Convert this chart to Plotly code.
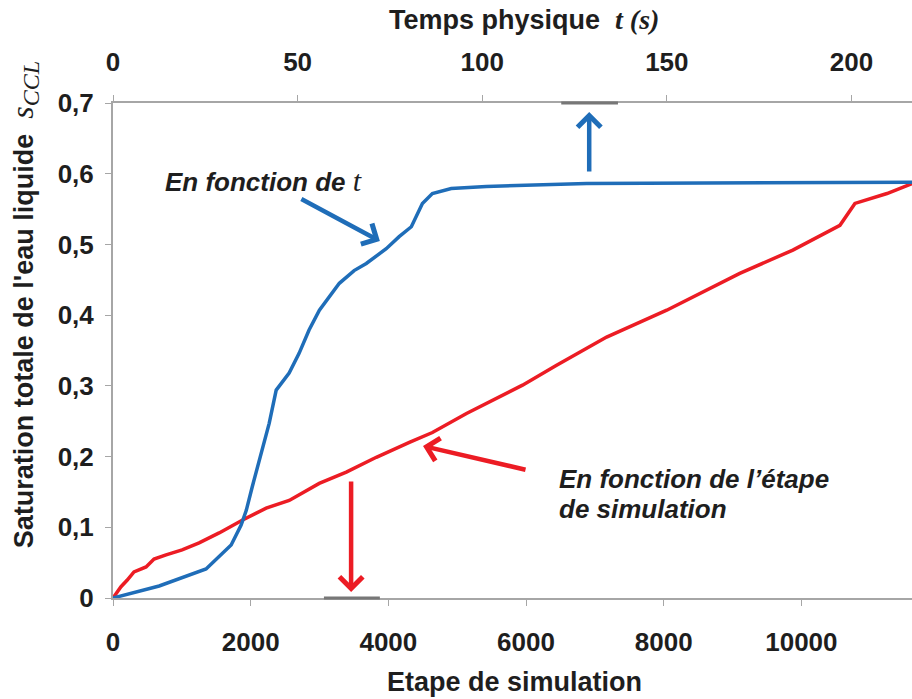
import plotly.graph_objects as go

# ---- data ----
time_s = [0, 12.5, 25.2, 28.7, 32.0, 34.7, 36.1, 37.7, 40.4, 42.3, 44.2, 47.7, 50.4, 53.1,
          55.9, 61.3, 65.3, 68.6, 74.0, 77.5, 80.8, 83.8, 86.5, 91.6, 101.1, 128.3, 216.4]
sat_vs_time = [0, 0.017, 0.041, 0.058, 0.075, 0.103, 0.124, 0.157, 0.209, 0.247, 0.294, 0.318,
               0.346, 0.379, 0.407, 0.445, 0.463, 0.473, 0.494, 0.511, 0.525, 0.558, 0.572,
               0.579, 0.582, 0.586, 0.588]

steps = [0, 116, 204, 305, 480, 596, 771, 1004, 1251, 1542, 1876, 2225, 2560, 2996, 3389,
         3825, 4305, 4640, 5135, 5949, 6444, 7171, 8044, 9105, 9876, 10560, 10778, 11244, 11607]
sat_vs_steps = [0, 0.016, 0.025, 0.037, 0.044, 0.055, 0.061, 0.068, 0.078, 0.092, 0.110, 0.127,
                0.138, 0.162, 0.178, 0.199, 0.220, 0.234, 0.261, 0.301, 0.329, 0.369, 0.407,
                0.459, 0.492, 0.527, 0.558, 0.572, 0.586]

step_ticks = [0, 2000, 4000, 6000, 8000, 10000]
step_ticklabels = ["0", "2000", "4000", "6000", "8000", "10000"]
time_ticks = [0, 50, 100, 150, 200]
time_ticklabels = ["0", "50", "100", "150", "200"]
sat_ticks = [0, 0.1, 0.2, 0.3, 0.4, 0.5, 0.6, 0.7]
sat_ticklabels = ["0", "0,1", "0,2", "0,3", "0,4", "0,5", "0,6", "0,7"]

step_range = [0, 11607]
time_range = [0, 216.4]
sat_range = [0, 0.7]

BLUE = "#1f6db8"
RED = "#ec1c24"
AXIS = "#a6a6a6"
TXT = "#1e1e1e"
FONT = "Liberation Sans, Arial, sans-serif"

fig = go.Figure()
fig.add_trace(go.Scatter(x=steps, y=sat_vs_steps, mode="lines",
                         line=dict(color=RED, width=3.5), xaxis="x", yaxis="y",
                         showlegend=False, cliponaxis=False))
fig.add_trace(go.Scatter(x=time_s, y=sat_vs_time, mode="lines",
                         line=dict(color=BLUE, width=3.5), xaxis="x2", yaxis="y",
                         showlegend=False, cliponaxis=False))

tickfont = dict(family=FONT, size=26, color=TXT, weight="bold")

fig.update_layout(
    width=912, height=699, autosize=False,
    margin=dict(l=113, r=0, t=103, b=101, pad=0),
    paper_bgcolor="white", plot_bgcolor="white",
    xaxis=dict(range=step_range, tickvals=step_ticks, ticktext=step_ticklabels,
               showgrid=False, zeroline=False, showline=True, linecolor=AXIS, linewidth=2,
               ticks="outside", ticklen=6, tickcolor=AXIS, tickwidth=1,
               tickfont=tickfont, ticklabelstandoff=14),
    xaxis2=dict(range=time_range, tickvals=time_ticks, ticktext=time_ticklabels,
                overlaying="x", side="top", anchor="y",
                showgrid=False, zeroline=False, showline=True, linecolor=AXIS, linewidth=2,
                ticks="outside", ticklen=6, tickcolor=AXIS, tickwidth=1,
                tickfont=tickfont, ticklabelstandoff=14),
    yaxis=dict(range=sat_range, tickvals=sat_ticks, ticktext=sat_ticklabels,
               showgrid=False, zeroline=False, showline=True, linecolor=AXIS, linewidth=2,
               ticks="outside", ticklen=6, tickcolor=AXIS, tickwidth=1,
               tickfont=tickfont, ticklabelstandoff=6),
)

title_font = dict(family=FONT, size=27, color=TXT)
ann_font = dict(family=FONT, size=26, color=TXT)
serif_span = "<span style='font-family:Liberation Serif, Times New Roman, serif;font-size:%dpx'>%s</span>"
annotations = [
    # axis titles
    dict(text="<b>Temps physique </b> <i><b>" + serif_span % (28, "t (s)") + "</b></i>",
         xref="paper", yref="paper", x=0.514, y=1.168, xanchor="center", yanchor="middle",
         showarrow=False, font=title_font),
    dict(text="<b>Etape de simulation</b>",
         xref="paper", yref="paper", x=0.503, y=-0.170, xanchor="center", yanchor="middle",
         showarrow=False, font=title_font),
    dict(text="<b>Saturation totale de l'eau liquide</b>  <i>" + serif_span % (32, "s") + "</i><sub><i>"
              + serif_span % (24, "CCL") + "</i></sub>",
         xref="paper", yref="paper", x=-0.111, y=0.592, xanchor="center", yanchor="middle",
         textangle=-90, showarrow=False, font=title_font),
    # curve labels
    dict(text="<b><i>En fonction de </i></b><i>" + serif_span % (30, "t") + "</i>",
         xref="paper", yref="paper", x=0.0626, y=0.844, xanchor="left", yanchor="middle",
         showarrow=False, font=ann_font),
    dict(text="<b><i>En fonction de l\u2019étape</i></b>",
         xref="paper", yref="paper", x=0.556, y=0.240, xanchor="left", yanchor="middle",
         showarrow=False, font=ann_font),
    dict(text="<b><i>de simulation</i></b>",
         xref="paper", yref="paper", x=0.556, y=0.180, xanchor="left", yanchor="middle",
         showarrow=False, font=ann_font),
]

arrow_common = dict(text="", showarrow=True, arrowhead=4, arrowsize=1.0, arrowwidth=4.5,
                    axref="pixel", ayref="pixel", xref="paper", yref="paper")
annotations += [
    dict(x=0.334, y=0.721, ax=-80, ay=-43, arrowcolor=BLUE, **arrow_common),
    dict(x=0.596, y=0.982, ax=0, ay=61, arrowcolor=BLUE, **arrow_common),
    dict(x=0.388, y=0.307, ax=104, ay=24, arrowcolor=RED, **arrow_common),
    dict(x=0.298, y=0.012, ax=0, ay=-112, arrowcolor=RED, **arrow_common),
]
fig.update_layout(annotations=annotations)

# darker highlighted segments on the axes
fig.add_shape(type="line", xref="paper", yref="paper", x0=0.264, x1=0.334, y0=0, y1=0,
              line=dict(color="#777777", width=3))
fig.add_shape(type="line", xref="paper", yref="paper", x0=0.561, x1=0.632, y0=1, y1=1,
              line=dict(color="#777777", width=3))

fig.write_html("out.html", config={"displayModeBar": False},
               post_script="document.body.style.margin='0';")
